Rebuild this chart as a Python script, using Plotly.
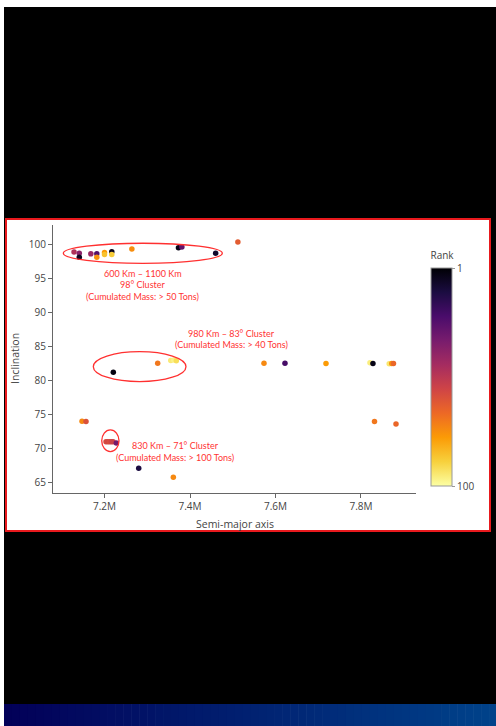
import plotly.graph_objects as go

# ---------------- data ----------------
semi_major_axis = [
    7.1287e6, 7.141e6, 7.141e6, 7.168e6, 7.182e6, 7.182e6, 7.200e6, 7.200e6,
    7.217e6, 7.217e6, 7.264e6, 7.373e6, 7.381e6, 7.460e6, 7.512e6,
    7.2206e6, 7.3244e6, 7.355e6, 7.362e6, 7.368e6, 7.5731e6, 7.6222e6,
    7.7181e6, 7.821e6, 7.828e6, 7.866e6, 7.872e6, 7.876e6,
    7.1474e6, 7.1567e6, 7.2035e6, 7.208e6, 7.212e6, 7.216e6, 7.220e6,
    7.2276e6, 7.280e6, 7.361e6, 7.8316e6, 7.8819e6,
]
inclination = [
    98.87, 98.7, 98.1, 98.6, 98.6, 98.1, 98.8, 98.5,
    98.9, 98.5, 99.3, 99.5, 99.6, 98.7, 100.34,
    81.2, 82.53, 82.95, 83.0, 82.9, 82.53, 82.53,
    82.5, 82.6, 82.5, 82.45, 82.5, 82.5,
    74.02, 74.0, 71.03, 71.03, 71.03, 71.03, 71.03,
    70.84, 67.13, 65.8, 73.97, 73.63,
]
rank = [
    48, 38, 6, 42, 25, 76, 78, 86,
    5, 88, 75, 4, 28, 8, 63,
    3, 70, 95, 97, 92, 74, 22,
    78, 96, 4, 94, 76, 66,
    74, 60, 58, 57, 59, 56, 55,
    33, 12, 74, 70, 66,
]

x_ticks = [7.2e6, 7.4e6, 7.6e6, 7.8e6]
y_ticks = [65, 70, 75, 80, 85, 90, 95, 100]

cluster_ellipses = [  # (x0, x1, y0, y1) in data units
    (7.1036e6, 7.4756e6, 97.21, 100.15),
    (7.1738e6, 7.3906e6, 79.84, 84.24),
    (7.1935e6, 7.2339e6, 69.56, 72.75),
]
cluster_labels = [  # (x, y, text)
    (7.290e6, 95.74, "600 Km – 1100 Km"),
    (7.290e6, 94.03, "98° Cluster"),
    (7.290e6, 92.31, "(Cumulated Mass: > 50 Tons)"),
    (7.498e6, 86.84, "980 Km – 83° Cluster"),
    (7.498e6, 85.22, "(Cumulated Mass: > 40 Tons)"),
    (7.365e6, 70.40, "830 Km – 71° Cluster"),
    (7.365e6, 68.74, "(Cumulated Mass: > 100 Tons)"),
]

# ---------------- layout geometry ----------------
W, H = 496, 726
L, R, T, B = 53, 80, 225, 233
PW, PH = W - L - R, H - T - B


def px_x(px):
    return (px - L) / PW


def px_y(py):
    return (H - B - py) / PH


neg_rank = [-r for r in rank]

fig = go.Figure()
fig.add_trace(go.Scatter(
    x=semi_major_axis, y=inclination, mode="markers",
    marker=dict(
        size=5.5, color=neg_rank, colorscale="Inferno_r", cmin=-100, cmax=-1,
        line=dict(width=0),
        colorbar=dict(
            title=dict(text="Rank", side="top", font=dict(size=10, color="#444")),
            thicknessmode="pixels", thickness=21,
            lenmode="pixels", len=237,
            x=px_x(431), xanchor="left", y=px_y(367.5), yanchor="middle",
            xpad=0, ypad=0, outlinewidth=1, outlinecolor="#999",
            tickvals=[-1, -100], ticktext=["1", "100"],
            ticks="outside", ticklen=3, tickcolor="#999",
            tickfont=dict(size=10, color="#444"),
        ),
    ),
    hoverinfo="skip", showlegend=False,
))

shapes = []
# black page background
shapes.append(dict(type="rect", xref="paper", yref="paper",
                   x0=px_x(4), x1=px_x(497), y0=px_y(704), y1=px_y(7),
                   fillcolor="black", line=dict(width=0), layer="below"))
# blue gradient strip
n = 62
c0, c1 = (2, 0, 88), (0, 66, 138)
for i in range(n):
    t = i / (n - 1)
    col = tuple(round(c0[k] + (c1[k] - c0[k]) * t) for k in range(3))
    xa = 4 + (497 - 4) * i / n
    xb = 4 + (497 - 4) * (i + 1) / n + 0.6
    shapes.append(dict(type="rect", xref="paper", yref="paper",
                       x0=px_x(xa), x1=px_x(xb), y0=px_y(727), y1=px_y(704),
                       fillcolor="rgb(%d,%d,%d)" % col, line=dict(width=0),
                       layer="below"))
# white chart box with red border
shapes.append(dict(type="rect", xref="paper", yref="paper",
                   x0=px_x(6), x1=px_x(490), y0=px_y(531), y1=px_y(219),
                   fillcolor="white", line=dict(color="#e8191d", width=2),
                   layer="below"))
for (x0, x1, y0, y1) in cluster_ellipses:
    shapes.append(dict(type="circle", xref="x", yref="y",
                       x0=x0, x1=x1, y0=y0, y1=y1,
                       line=dict(color="#ff3030", width=1.3), layer="above"))

annotations = []
for (x, y, txt) in cluster_labels:
    annotations.append(dict(x=x, y=y, xref="x", yref="y", text=txt,
                            showarrow=False, xanchor="center", yanchor="middle",
                            font=dict(family="Lato, sans-serif",
                                      size=9, color="#ff3333")))
annotations.append(dict(x=px_x(234.5), y=px_y(524), xref="paper", yref="paper",
                        text="Semi-major axis", showarrow=False,
                        xanchor="center", yanchor="middle",
                        font=dict(size=10.5, color="#444")))
annotations.append(dict(x=px_x(15), y=px_y(359), xref="paper", yref="paper",
                        text="Inclination", showarrow=False, textangle=-90,
                        xanchor="center", yanchor="middle",
                        font=dict(size=10.5, color="#444")))

fig.update_layout(
    width=W, height=H,
    margin=dict(l=L, r=R, t=T, b=B, pad=0),
    paper_bgcolor="white", plot_bgcolor="rgba(0,0,0,0)",
    font=dict(family="Open Sans, sans-serif", size=10, color="#444"),
    showlegend=False,
    shapes=shapes, annotations=annotations,
    xaxis=dict(range=[7.0795e6, 7.9287e6], tickvals=x_ticks,
               showline=True, linecolor="#666", linewidth=1,
               ticks="outside", ticklen=4, tickcolor="#666",
               showgrid=False, zeroline=False),
    yaxis=dict(range=[63.49, 102.83], tickvals=y_ticks,
               showline=True, linecolor="#666", linewidth=1,
               ticks="outside", ticklen=4, tickcolor="#666",
               showgrid=False, zeroline=False),
)

fig.write_html("out.html", config={"displayModeBar": False},
               post_script="document.body.style.margin='0';document.body.style.overflow='hidden';")
